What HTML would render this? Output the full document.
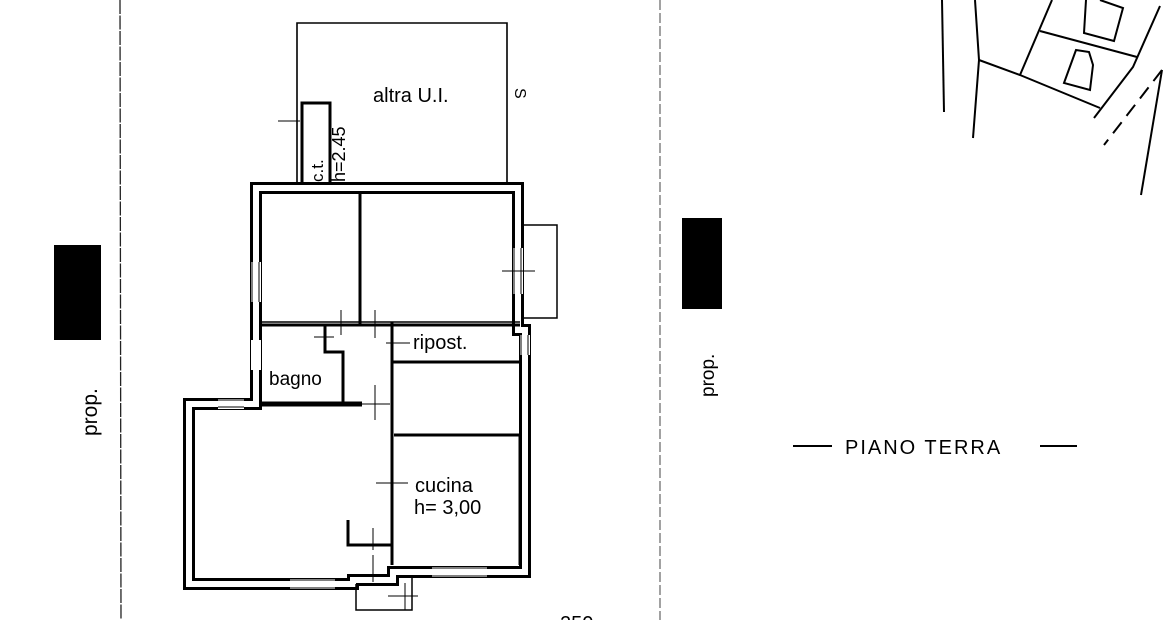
<!DOCTYPE html>
<html><head><meta charset="utf-8"><style>
html,body{margin:0;padding:0;background:#fff;width:1172px;height:620px;overflow:hidden}
svg{display:block}
text{font-family:"Liberation Sans","DejaVu Sans",sans-serif;fill:#000}
</style></head><body>
<svg width="1172" height="620" viewBox="0 0 1172 620" xmlns="http://www.w3.org/2000/svg">
<line x1="120" y1="0" x2="121" y2="620" stroke="#222" stroke-width="1.3" stroke-dasharray="14 1.5"/>
<line x1="660" y1="0" x2="660" y2="620" stroke="#555" stroke-width="1.1" stroke-dasharray="10 3"/>
<rect x="54" y="245" width="47" height="95" fill="#000"/>
<rect x="682" y="218" width="40" height="91" fill="#000"/>
<text transform="translate(97,436) rotate(-90)" font-size="21">prop.</text>
<text transform="translate(714,397) rotate(-90)" font-size="19">prop.</text>
<line x1="793" y1="446" x2="832" y2="446" stroke="#000" stroke-width="2"/>
<line x1="1040" y1="446" x2="1077" y2="446" stroke="#000" stroke-width="2"/>
<text x="845" y="454" font-size="20" letter-spacing="2">PIANO TERRA</text>
<g stroke="#000" stroke-width="2" fill="none">
<path d="M942 0 L944 112"/>
<path d="M975 0 L979 60 L973 138"/>
<path d="M979 60 L1020 75 L1100 108"/>
<path d="M1052 0 L1020 75"/>
<path d="M1040 31 L1137 57"/>
<path d="M1160 6 L1133 67 L1094 118"/>
<path d="M1086 0 L1084 33 L1114 41 L1123 8 L1100 0"/>
<path d="M1076 50 L1064 83 L1090 90 L1093 65 L1089 52 Z"/>
<path d="M1162 70 L1141 195"/>
<path d="M1162 70 L1104 145" stroke-dasharray="14 8"/>
</g>
<g stroke="#000" stroke-width="1.6" fill="none">
<path d="M297 184 L297 23 L507 23 L507 184"/>
<rect x="302" y="103" width="28" height="81" stroke-width="3"/>
<line x1="278" y1="121" x2="300" y2="121" stroke-width="1"/>
</g>
<text x="373" y="102" font-size="20">altra U.I.</text>
<text transform="translate(515,88) rotate(90)" font-size="16">S</text>
<text transform="translate(323,182) rotate(-90)" font-size="17">c.t.</text>
<text transform="translate(345,182) rotate(-90)" font-size="18">h=2.45</text>
<g fill="none" stroke-linejoin="miter">
<path d="M256 188 L518 188 L518 330 L525 330 L525 572 L393 572 L393 580 L353 580 L353 584 L189 584 L189 404 L256 404 Z" stroke="#000" stroke-width="12"/>
<path d="M256 188 L518 188 L518 330 L525 330 L525 572 L393 572 L393 580 L353 580 L353 584 L189 584 L189 404 L256 404 Z" stroke="#fff" stroke-width="6"/>
</g>
<g stroke="#000" fill="none">
<line x1="360" y1="192" x2="360" y2="325" stroke-width="3"/>
<line x1="262" y1="325" x2="520" y2="325" stroke-width="3"/>
<line x1="262" y1="322" x2="520" y2="322" stroke-width="1.5"/>
<path d="M325 325 L325 352 L343 352 L343 403" stroke-width="3"/>
<line x1="262" y1="404" x2="362" y2="404" stroke-width="5"/>
<line x1="392" y1="322" x2="392" y2="565" stroke-width="3"/>
<line x1="392" y1="362" x2="520" y2="362" stroke-width="3"/>
<path d="M394 435 L520 435 L520 565" stroke-width="3"/>
<path d="M348 520 L348 545 L392 545" stroke-width="3"/>
<path d="M524 225 L557 225 L557 318 L524 318" stroke-width="1.5"/>
<path d="M356 584 L356 610 L412 610 L412 576" stroke-width="1.5"/>
</g>
<g fill="#fff">
<rect x="251" y="262" width="10" height="40"/>
<rect x="251" y="340" width="10" height="30"/>
<rect x="218" y="399" width="26" height="10"/>
<rect x="290" y="579" width="45" height="10"/>
<rect x="432" y="567" width="55" height="10"/>
<rect x="513" y="248" width="10" height="46"/>
<rect x="520" y="335" width="10" height="20"/>
</g>
<g stroke="#000" stroke-width="1">
<line x1="252" y1="262" x2="252" y2="302"/><line x1="259" y1="262" x2="259" y2="302"/>
<line x1="218" y1="400" x2="244" y2="400"/><line x1="218" y1="407" x2="244" y2="407"/>
<line x1="290" y1="580" x2="335" y2="580"/><line x1="290" y1="588" x2="335" y2="588"/>
<line x1="432" y1="568" x2="487" y2="568"/><line x1="432" y1="576" x2="487" y2="576"/>
<line x1="514" y1="248" x2="514" y2="294"/><line x1="521" y1="248" x2="521" y2="294"/>
<line x1="521" y1="335" x2="521" y2="355"/><line x1="528" y1="335" x2="528" y2="355"/>
<line x1="314" y1="337" x2="334" y2="337"/><line x1="341" y1="310" x2="341" y2="335"/>
<line x1="375" y1="310" x2="375" y2="338"/>
<line x1="386" y1="343" x2="410" y2="343"/>
<line x1="375" y1="385" x2="375" y2="420"/><line x1="360" y1="404" x2="390" y2="404"/>
<line x1="376" y1="483" x2="408" y2="483"/>
<line x1="373" y1="528" x2="373" y2="550"/><line x1="373" y1="555" x2="373" y2="582"/>
<line x1="388" y1="596" x2="418" y2="596"/><line x1="405" y1="583" x2="405" y2="610"/>
<line x1="502" y1="271" x2="535" y2="271"/>
</g>
<text x="269" y="385" font-size="19">bagno</text>
<text x="413" y="349" font-size="20">ripost.</text>
<text x="415" y="492" font-size="20">cucina</text>
<text x="414" y="514" font-size="20">h= 3,00</text>
<text x="560" y="630" font-size="20">250</text>
</svg>
</body></html>
